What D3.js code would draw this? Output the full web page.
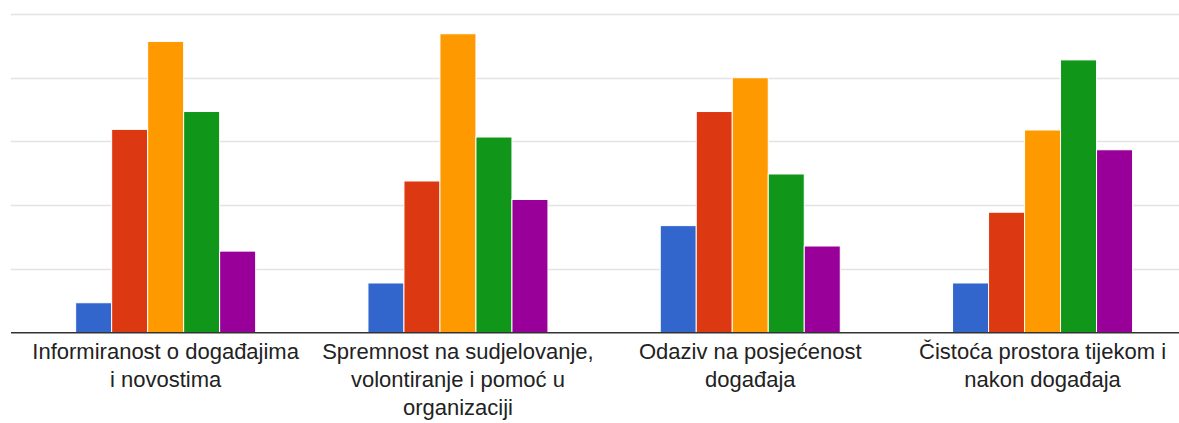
<!DOCTYPE html>
<html>
<head>
<meta charset="utf-8">
<script src="https://cdn.jsdelivr.net/npm/d3@7"></script>
<style>
  body { margin: 0; background: #fff; }
  .cat-label { font-family: "Liberation Sans", Arial, sans-serif; font-size: 22px; fill: #222; }
</style>
</head>
<body>
<div id="chart"></div>
<script>
const categories = [
    "Informiranost o događajima i novostima",
    "Spremnost na sudjelovanje, volontiranje i pomoć u organizaciji",
    "Odaziv na posjećenost događaja",
    "Čistoća prostora tijekom i nakon događaja"
];
const labelLines = [
    ["Informiranost o događajima", "i novostima"],
    ["Spremnost na sudjelovanje,", "volontiranje i pomoć u", "organizaciji"],
    ["Odaziv na posjećenost", "događaja"],
    ["Čistoća prostora tijekom i", "nakon događaja"]
];
const seriesNames = ["1", "2", "3", "4", "5"];
const seriesColors = ["#3366cc", "#dc3912", "#ff9900", "#109618", "#990099"];
const values1 = [4.7, 7.8, 16.8, 7.8];
const values2 = [31.9, 23.8, 34.7, 18.9];
const values3 = [45.7, 46.9, 40.0, 31.8];
const values4 = [34.7, 30.7, 24.9, 42.8];
const values5 = [12.8, 20.9, 13.6, 28.7];
const yTicks = [0, 10, 20, 30, 40, 50];

const allSeries = [values1, values2, values3, values4, values5];

const W = 1179, H = 423;
const BASE = 332.7, TOP = 14;

const svg = d3.select("#chart")
    .append("svg")
        .attr("width", W)
        .attr("height", H);

// scales
const y = d3.scaleLinear()
    .domain([0, 50])
    .range([BASE, TOP]);

const x0 = d3.scaleBand()
    .domain(categories)
    .range([19.5, 1188.7]);

const GROUP_W = 180;
const x1 = d3.scaleBand()
    .domain(seriesNames)
    .range([0, GROUP_W]);

// gridlines
svg.append("g")
    .selectAll("line")
    .data(yTicks.slice(1))
    .enter()
    .append("line")
        .attr("x1", 11)
        .attr("x2", W)
        .attr("y1", d => Math.round(y(d)) + 0.5)
        .attr("y2", d => Math.round(y(d)) + 0.5)
        .attr("stroke", "#e3e3e3")
        .attr("stroke-width", 1.5);

// bars
const groups = svg.append("g")
    .selectAll("g")
    .data(categories)
    .enter()
    .append("g")
        .attr("transform", d => `translate(${x0(d) + (x0.bandwidth() - GROUP_W) / 2}, 0)`);

groups.selectAll("rect")
    .data((d, i) => seriesNames.map((s, j) => ({ s: s, v: allSeries[j][i], c: seriesColors[j] })))
    .enter()
    .append("rect")
        .attr("x", d => x1(d.s))
        .attr("y", d => y(d.v))
        .attr("width", x1.bandwidth())
        .attr("height", d => BASE - y(d.v))
        .attr("fill", d => d.c)
        .attr("stroke", "#fff")
        .attr("stroke-width", 1);

// baseline
svg.append("line")
    .attr("x1", 11)
    .attr("x2", W)
    .attr("y1", BASE)
    .attr("y2", BASE)
    .attr("stroke", "#333")
    .attr("stroke-width", 1.5);

// category labels
const labels = svg.append("g")
    .selectAll("text")
    .data(categories)
    .enter()
    .append("text")
        .attr("class", "cat-label")
        .attr("text-anchor", "middle")
        .attr("x", d => x0(d) + x0.bandwidth() / 2)
        .attr("y", 358.5);

labels.selectAll("tspan")
    .data((d, i) => labelLines[i])
    .enter()
    .append("tspan")
        .attr("x", function() { return d3.select(this.parentNode).attr("x"); })
        .attr("dy", (d, i) => i === 0 ? 0 : 28)
        .text(d => d);
</script>
</body>
</html>
